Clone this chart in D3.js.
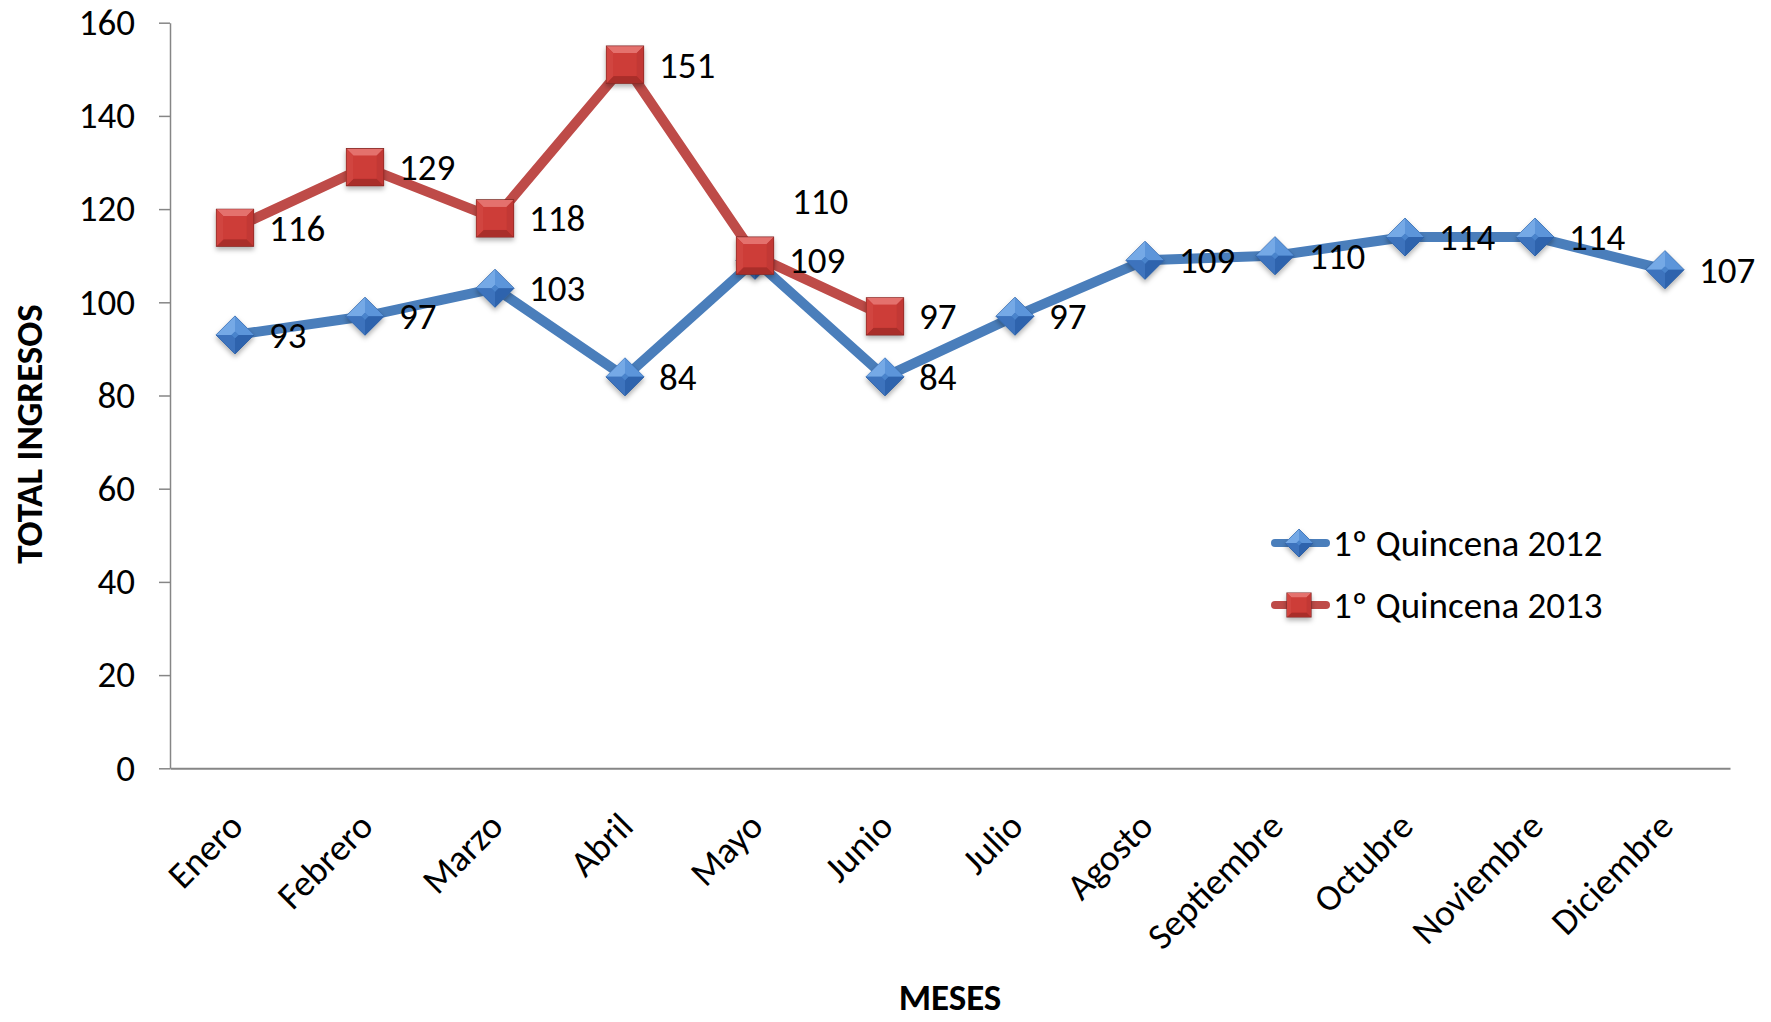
<!DOCTYPE html>
<html>
<head>
<meta charset="utf-8">
<script src="https://cdn.jsdelivr.net/npm/d3@7"></script>
<style>
  body { margin: 0; background: #fff; }
  svg text { font-family: Carlito, Calibri, Lato, "Open Sans", sans-serif; fill: #000; }
</style>
</head>
<body>
<svg id="chart" width="1771" height="1022"></svg>
<script>
// datos del grafico
const meses = ["Enero", "Febrero", "Marzo", "Abril", "Mayo", "Junio", "Julio",
               "Agosto", "Septiembre", "Octubre", "Noviembre", "Diciembre"];
const quincena2012 = [93, 97, 103, 84, 109, 84, 97, 109, 110, 114, 114, 107];
const quincena2013 = [116, 129, 118, 151, 110, 97];
const yTicks = [0, 20, 40, 60, 80, 100, 120, 140, 160];
const seriesNames = ["1º Quincena 2012", "1º Quincena 2013"];

const svg = d3.select("#chart");
const plotLeft = 170, plotRight = 1730, plotTop = 22.7, plotBottom = 768.3;
const fs = 37;

let x = d3.scaleBand().domain(meses).range([plotLeft, plotRight]);
let cx = d => x(d) + x.bandwidth() / 2;
let y = d3.scaleLinear().domain([0, 160]).range([plotBottom, plotTop]);

// sombra de los marcadores
let defs = svg.append("defs");
defs.append("filter").attr("id", "sombra")
    .attr("x", "-50%").attr("y", "-50%").attr("width", "200%").attr("height", "200%")
    .append("feDropShadow")
    .attr("dx", 0).attr("dy", 3).attr("stdDeviation", 2.5)
    .attr("flood-color", "#000").attr("flood-opacity", 0.3);

// eje Y
let yAxis = svg.append("g")
    .attr("transform", "translate(" + plotLeft + ",0)")
    .call(d3.axisLeft(y).tickValues(yTicks).tickSize(11).tickSizeOuter(0).tickPadding(24));
yAxis.select(".domain").attr("stroke", "#868686").attr("stroke-width", 1.5);
yAxis.selectAll(".tick line").attr("stroke", "#868686").attr("stroke-width", 1.5);
yAxis.selectAll(".tick text").attr("font-size", fs).attr("font-family", null);

// eje X
let xAxis = svg.append("g")
    .attr("transform", "translate(0," + plotBottom + ")")
    .call(d3.axisBottom(x).tickSize(0).tickSizeOuter(0));
xAxis.select(".domain").attr("stroke", "#868686").attr("stroke-width", 2);
xAxis.selectAll(".tick text")
    .attr("font-size", fs).attr("font-family", null)
    .attr("text-anchor", "end")
    .attr("transform", "translate(1,51) rotate(-45)")
    .attr("x", 0).attr("y", 0).attr("dy", "0.35em");

// titulos de ejes
svg.append("text")
    .attr("transform", "translate(42,434) rotate(-90)")
    .attr("text-anchor", "middle")
    .attr("font-size", fs).attr("font-weight", "bold")
    .text("TOTAL INGRESOS");
svg.append("text")
    .attr("x", (plotLeft + plotRight) / 2).attr("y", 1010)
    .attr("text-anchor", "middle")
    .attr("font-size", fs).attr("font-weight", "bold")
    .text("MESES");

// lineas
let line = d3.line().x((d, i) => cx(meses[i])).y(d => y(d));
svg.append("path").datum(quincena2012)
    .attr("d", line).attr("fill", "none")
    .attr("stroke", "#4A7EBB").attr("stroke-width", 10).attr("stroke-linejoin", "round");
svg.append("path").datum(quincena2013)
    .attr("d", line).attr("fill", "none")
    .attr("stroke", "#BE4B48").attr("stroke-width", 10).attr("stroke-linejoin", "round");

// marcadores con biselado
function poly(pts) { return "M" + pts.map(p => p.join(",")).join("L") + "Z"; }

function diamante(g, px, py, r) {
    let c = r * 0.18;
    let m = g.append("g").attr("filter", "url(#sombra)");
    m.append("path").attr("d", poly([[px - r, py], [px, py - r], [px + r, py], [px, py + r]]))
        .attr("fill", "#3F77C0").attr("stroke", "#2E5E9E").attr("stroke-width", 1);
    m.append("path").attr("d", poly([[px - r, py], [px, py - r], [px, py - c], [px - c, py]])).attr("fill", "#74A9E6");
    m.append("path").attr("d", poly([[px, py - r], [px + r, py], [px + c, py], [px, py - c]])).attr("fill", "#5C95DA");
    m.append("path").attr("d", poly([[px + r, py], [px, py + r], [px, py + c], [px + c, py]])).attr("fill", "#2F64AD");
    m.append("path").attr("d", poly([[px, py + r], [px - r, py], [px - c, py], [px, py + c]])).attr("fill", "#3C73BD");
    m.append("path").attr("d", poly([[px - c, py], [px, py - c], [px + c, py], [px, py + c]])).attr("fill", "#4A84CC");
}

function cuadrado(g, px, py, r) {
    let c = r * 0.62;
    let m = g.append("g").attr("filter", "url(#sombra)");
    m.append("path").attr("d", poly([[px - r, py - r], [px + r, py - r], [px + r, py + r], [px - r, py + r]]))
        .attr("fill", "#C93A36").attr("stroke", "#7E2624").attr("stroke-width", 1.2);
    m.append("path").attr("d", poly([[px - r, py - r], [px + r, py - r], [px + c, py - c], [px - c, py - c]])).attr("fill", "#E4716D");
    m.append("path").attr("d", poly([[px + r, py - r], [px + r, py + r], [px + c, py + c], [px + c, py - c]])).attr("fill", "#C23935");
    m.append("path").attr("d", poly([[px + r, py + r], [px - r, py + r], [px - c, py + c], [px + c, py + c]])).attr("fill", "#A92D2A");
    m.append("path").attr("d", poly([[px - r, py + r], [px - r, py - r], [px - c, py - c], [px - c, py + c]])).attr("fill", "#D1443F");
    m.append("path").attr("d", poly([[px - c, py - c], [px + c, py - c], [px + c, py + c], [px - c, py + c]])).attr("fill", "#CD3C38");
}

let mk = svg.append("g");
quincena2012.forEach((v, i) => diamante(mk, cx(meses[i]), y(v), 19));
quincena2013.forEach((v, i) => cuadrado(mk, cx(meses[i]), y(v), 18.5));

// etiquetas de datos
let lab = svg.append("g").attr("font-size", fs);
quincena2012.forEach((v, i) => {
    lab.append("text").attr("x", cx(meses[i]) + 34).attr("y", y(v)).attr("dy", "0.35em").text(v);
});
quincena2013.forEach((v, i) => {
    // la etiqueta de Mayo 2013 esta desplazada hacia arriba
    let dx = i === 4 ? 37 : 34, dy = i === 4 ? -55 : 0;
    lab.append("text").attr("x", cx(meses[i]) + dx).attr("y", y(v) + dy).attr("dy", "0.35em").text(v);
});

// leyenda
let leg = svg.append("g");
[543, 605].forEach((ly, i) => {
    leg.append("line").attr("x1", 1275).attr("x2", 1326).attr("y1", ly).attr("y2", ly)
        .attr("stroke", i === 0 ? "#4A7EBB" : "#BE4B48").attr("stroke-width", 8).attr("stroke-linecap", "round");
    if (i === 0) diamante(leg, 1299, ly, 14);
    else cuadrado(leg, 1299, ly, 12);
    leg.append("text").attr("x", 1333).attr("y", ly).attr("dy", "0.35em")
        .attr("font-size", fs).text(seriesNames[i]);
});
</script>
</body>
</html>
